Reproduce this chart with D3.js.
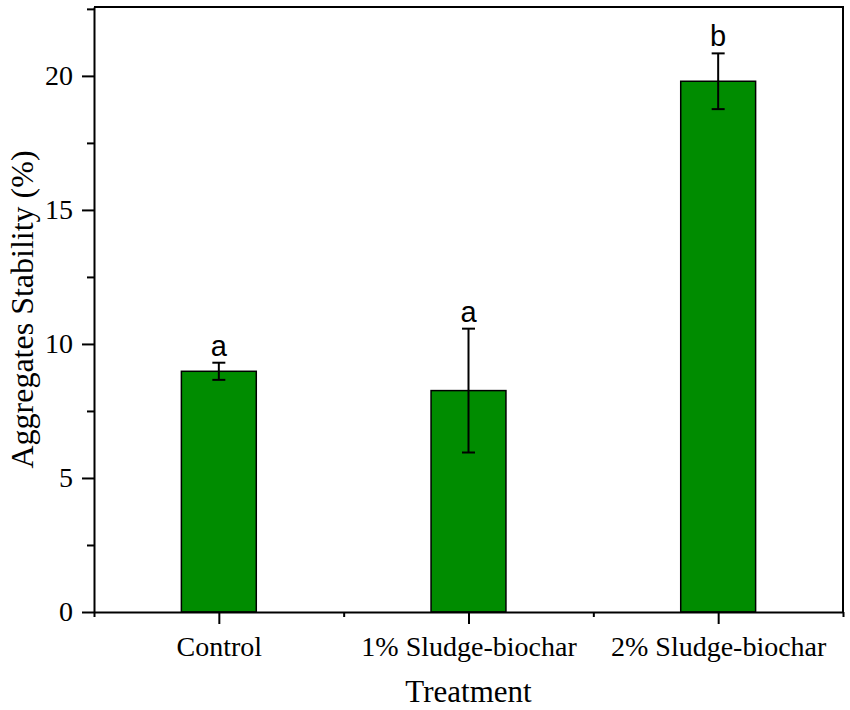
<!DOCTYPE html>
<html>
<head>
<meta charset="utf-8">
<script src="https://cdn.jsdelivr.net/npm/d3@7"></script>
<style>
  body { margin: 0; background: #fff; }
  svg { display: block; }
  .tick text { font-family: "Liberation Serif", "Times New Roman", serif; }
</style>
</head>
<body>
<div id="chart"></div>
<script>
// data
let treatments = ["Control", "1% Sludge-biochar", "2% Sludge-biochar"];
let stability = [8.98, 8.26, 19.8];
let errors = [0.32, 2.31, 1.04];
let letters = ["a", "a", "b"];
let yTicks = [0, 5, 10, 15, 20];

let svgWidth = 850;
let svgHeight = 710;

let margin = { top: 7, right: 7, bottom: 98, left: 94 };
let width = svgWidth - margin.left - margin.right;
let height = svgHeight - margin.top - margin.bottom;

let svg = d3.select("#chart")
  .append("svg")
  .attr("width", svgWidth)
  .attr("height", svgHeight);

let chartGroup = svg.append("g")
  .attr("transform", `translate(${margin.left}, ${margin.top})`);

// x is a linear scale over category index, like the original plot
let xScale = d3.scaleLinear()
  .domain([0.5, treatments.length + 0.5])
  .range([0, width]);

let yScale = d3.scaleLinear()
  .domain([0, 22.57])
  .range([height, 0]);

let barWidth = xScale(1.3) - xScale(1);

// bars
chartGroup.selectAll("rect.bar")
  .data(treatments)
  .enter()
  .append("rect")
  .attr("class", "bar")
  .attr("x", (d, i) => xScale(i + 1) - barWidth / 2)
  .attr("y", (d, i) => yScale(stability[i]))
  .attr("width", barWidth)
  .attr("height", (d, i) => yScale(0) - yScale(stability[i]))
  .attr("fill", "#008c00")
  .attr("stroke", "#000")
  .attr("stroke-width", 1.5);

// error bars
let capHalf = 6.5;
let errGroup = chartGroup.selectAll("g.err")
  .data(treatments)
  .enter()
  .append("g")
  .attr("class", "err")
  .attr("stroke", "#000")
  .attr("stroke-width", 2);

errGroup.append("line")
  .attr("x1", (d, i) => xScale(i + 1))
  .attr("x2", (d, i) => xScale(i + 1))
  .attr("y1", (d, i) => yScale(stability[i] + errors[i]))
  .attr("y2", (d, i) => yScale(stability[i] - errors[i]));

errGroup.append("line")
  .attr("x1", (d, i) => xScale(i + 1) - capHalf)
  .attr("x2", (d, i) => xScale(i + 1) + capHalf)
  .attr("y1", (d, i) => yScale(stability[i] + errors[i]))
  .attr("y2", (d, i) => yScale(stability[i] + errors[i]));

errGroup.append("line")
  .attr("x1", (d, i) => xScale(i + 1) - capHalf)
  .attr("x2", (d, i) => xScale(i + 1) + capHalf)
  .attr("y1", (d, i) => yScale(stability[i] - errors[i]))
  .attr("y2", (d, i) => yScale(stability[i] - errors[i]));

// significance letters
chartGroup.selectAll("text.sig")
  .data(letters)
  .enter()
  .append("text")
  .attr("class", "sig")
  .attr("x", (d, i) => xScale(i + 1))
  .attr("y", (d, i) => yScale(stability[i] + errors[i]) - 7)
  .attr("text-anchor", "middle")
  .attr("font-family", "Liberation Sans, Arial, sans-serif")
  .attr("font-size", "29px")
  .text(d => d);

// frame (top and right)
chartGroup.append("path")
  .attr("d", `M0,0H${width}V${height}`)
  .attr("fill", "none")
  .attr("stroke", "#000")
  .attr("stroke-width", 2);

// minor ticks
let yMinor = d3.axisLeft(yScale)
  .tickValues([2.5, 7.5, 12.5, 17.5, 22.5].filter(v => v <= 22.57))
  .tickSize(7)
  .tickFormat("");
chartGroup.append("g").call(yMinor)
  .call(g => g.select(".domain").remove())
  .selectAll("line").attr("stroke-width", 2);

let xMinor = d3.axisBottom(xScale)
  .tickValues([0.5, 1.5, 2.5, 3.5])
  .tickSize(5)
  .tickFormat("");
chartGroup.append("g")
  .attr("transform", `translate(0, ${height})`)
  .call(xMinor)
  .call(g => g.select(".domain").remove())
  .selectAll("line").attr("stroke-width", 2);

// main axes
let leftAxis = d3.axisLeft(yScale)
  .tickValues(yTicks)
  .tickSize(12)
  .tickPadding(9)
  .tickSizeOuter(0);
let yAxis = chartGroup.append("g").call(leftAxis);
yAxis.select(".domain").attr("stroke-width", 2);
yAxis.selectAll(".tick line").attr("stroke-width", 2);
yAxis.selectAll(".tick text")
  .attr("font-size", "28px")
  .attr("fill", "#000");

let bottomAxis = d3.axisBottom(xScale)
  .tickValues(d3.range(1, treatments.length + 1))
  .tickFormat(d => treatments[d - 1])
  .tickSize(12)
  .tickPadding(12)
  .tickSizeOuter(0);
let xAxis = chartGroup.append("g")
  .attr("transform", `translate(0, ${height})`)
  .call(bottomAxis);
xAxis.select(".domain").attr("stroke-width", 2);
xAxis.selectAll(".tick line").attr("stroke-width", 2);
xAxis.selectAll(".tick text")
  .attr("font-size", "28px")
  .attr("fill", "#000");

// axis titles
svg.append("text")
  .attr("x", margin.left + xScale(2))
  .attr("y", 702)
  .attr("text-anchor", "middle")
  .attr("font-family", "Liberation Serif, Times New Roman, serif")
  .attr("font-size", "31px")
  .text("Treatment");

svg.append("text")
  .attr("transform", `translate(33, ${margin.top + height / 2}) rotate(-90)`)
  .attr("text-anchor", "middle")
  .attr("font-family", "Liberation Serif, Times New Roman, serif")
  .attr("font-size", "32px")
  .text("Aggregates Stability (%)");
</script>
</body>
</html>
